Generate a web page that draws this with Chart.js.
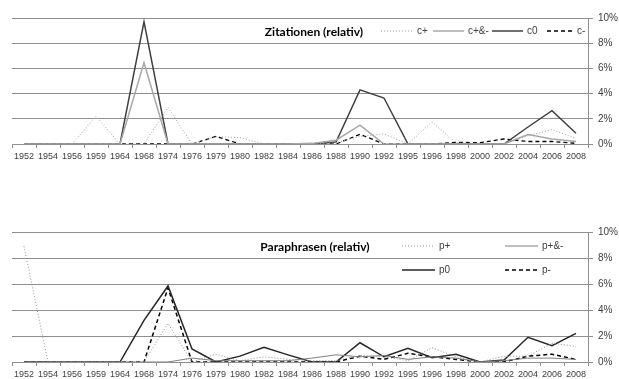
<!DOCTYPE html>
<html>
<head>
<meta charset="utf-8">
<script src="https://cdn.jsdelivr.net/npm/chart.js@4"></script>
<style>
  body { margin: 0; background: #fff; }
  canvas { position: absolute; left: 0; }
  #chartZit { top: 0; }
  #chartPara { top: 190px; }
</style>
</head>
<body>
<canvas id="chartZit" width="619" height="170"></canvas>
<canvas id="chartPara" width="619" height="189"></canvas>
<script>
const years = ['1952', '1954', '1956', '1959', '1964', '1968', '1974', '1976', '1979', '1980', '1982', '1984',
    '1986', '1988', '1990', '1992', '1995', '1996', '1998', '2000', '2002', '2004', '2006', '2008'];
const percentTicks = [0, 2, 4, 6, 8, 10];

// Zitationen, Anteil in %
const cPlus = [0, 0, 0, 2.2, 0, 0, 2.9, 0, 0.6, 0.5, 0, 0, 0, 0.1, 0.6, 0.8, 0, 1.75, 0.1, 0, 0, 0.65, 1.15, 0.45];
const cBoth = [0, 0, 0, 0, 0, 6.45, 0, 0, 0, 0, 0, 0, 0.05, 0.3, 1.5, 0, 0, 0, 0, 0, 0, 0.75, 0.4, 0.2];
const cZero = [0, 0, 0, 0, 0, 9.7, 0, 0, 0, 0, 0, 0, 0, 0.15, 4.3, 3.65, 0, 0, 0, 0, 0, 1.35, 2.65, 0.85];
const cMinus = [0, 0, 0, 0, 0, 0, 0, 0, 0.6, 0, 0, 0, 0, 0, 0.77, 0, 0, 0, 0.13, 0.1, 0.4, 0.2, 0.2, 0.05];

// Paraphrasen, Anteil in %
const pPlus = [8.9, 0, 0, 0, 0, 0, 2.97, 0, 0.6, 0.1, 0.4, 0.2, 0.1, 0.1, 0.5, 0.4, 0.1, 1.1, 0.4, 0, 0.45, 0.45, 1.45, 1.2];
const pBoth = [0, 0, 0, 0, 0, 0, 0, 0.3, 0.1, 0.1, 0.1, 0.1, 0.3, 0.55, 0.4, 0.5, 0.2, 0.4, 0.3, 0, 0.1, 0.3, 0.3, 0.2];
const pZero = [0, 0, 0, 0, 0, 3.2, 5.85, 1.0, 0, 0.45, 1.13, 0.55, 0, 0, 1.48, 0.4, 1.05, 0.33, 0.6, 0, 0.15, 1.9, 1.25, 2.2];
const pMinus = [0, 0, 0, 0, 0, 0, 5.7, 0, 0, 0, 0, 0, 0, 0, 0.45, 0.2, 0.67, 0.4, 0.2, 0, 0, 0.45, 0.6, 0.2];

const gridGray = '#8f8f8f';
const textGray = '#404040';

// title and legend are drawn inside the plot area
const overlayPlugin = {
    id: 'overlay',
    afterDraw(chart, args, opts) {
        const ctx = chart.ctx;
        ctx.save();
        ctx.font = 'bold 12px Lato';
        ctx.fillStyle = '#000';
        ctx.textAlign = 'center';
        ctx.textBaseline = 'middle';
        ctx.fillText(opts.title, opts.titleX, opts.titleY);

        ctx.font = '10px "Liberation Sans"';
        ctx.textAlign = 'left';
        opts.items.forEach((item, i) => {
            const ds = chart.data.datasets[i];
            ctx.strokeStyle = ds.borderColor;
            ctx.lineWidth = ds.borderWidth;
            ctx.setLineDash(ds.borderDash || []);
            ctx.beginPath();
            ctx.moveTo(item.x1, item.y);
            ctx.lineTo(item.x2, item.y);
            ctx.stroke();
            ctx.setLineDash([]);
            ctx.fillStyle = textGray;
            ctx.fillText(ds.label, item.x2 + 4, item.y);
        });
        ctx.restore();
    }
};

function makeOptions(padTop, axisHeight, overlay) {
    return {
        responsive: false,
        animation: false,
        layout: { padding: { top: padTop, left: 12, right: 0, bottom: 0 } },
        plugins: {
            legend: { display: false },
            tooltip: { enabled: false },
            overlay: overlay
        },
        elements: { point: { radius: 0 }, line: { tension: 0 } },
        scales: {
            x: {
                offset: true,
                grid: { offset: true, drawOnChartArea: false, tickLength: 4, color: gridGray },
                border: { color: gridGray },
                ticks: { autoSkip: false, maxRotation: 0, padding: 3, color: textGray,
                    font: { family: 'Liberation Sans', size: 9 } },
                afterFit(scale) { scale.height = axisHeight; }
            },
            y: {
                position: 'right',
                min: 0,
                max: 10,
                afterBuildTicks(scale) { scale.ticks = percentTicks.map(v => ({ value: v })); },
                grid: { color: gridGray, tickLength: 5 },
                border: { color: gridGray },
                ticks: { padding: 5, color: textGray, font: { family: 'Liberation Sans', size: 10 },
                    callback: v => v + '%' },
                afterFit(scale) { scale.width = 31; }
            }
        }
    };
}

new Chart(document.getElementById('chartZit'), {
    type: 'line',
    data: {
        labels: years,
        datasets: [
            { label: 'c+', data: cPlus, borderColor: '#a0a0a0', borderWidth: 1, borderDash: [1, 2] },
            { label: 'c+&-', data: cBoth, borderColor: '#a8a8a8', borderWidth: 1.5 },
            { label: 'c0', data: cZero, borderColor: '#404040', borderWidth: 1.5 },
            { label: 'c-', data: cMinus, borderColor: '#000', borderWidth: 1.3, borderDash: [4, 3] }
        ]
    },
    options: makeOptions(18, 26, {
        title: 'Zitationen (relativ)', titleX: 314, titleY: 32,
        items: [
            { x1: 381, x2: 413, y: 31 },
            { x1: 433, x2: 464, y: 31 },
            { x1: 492, x2: 523, y: 31 },
            { x1: 547, x2: 573, y: 31 }
        ]
    }),
    plugins: [overlayPlugin]
});

new Chart(document.getElementById('chartPara'), {
    type: 'line',
    data: {
        labels: years,
        datasets: [
            { label: 'p+', data: pPlus, borderColor: '#909090', borderWidth: 1, borderDash: [1, 2] },
            { label: 'p+&-', data: pBoth, borderColor: '#7f7f7f', borderWidth: 1 },
            { label: 'p0', data: pZero, borderColor: '#262626', borderWidth: 1.5 },
            { label: 'p-', data: pMinus, borderColor: '#000', borderWidth: 1.5, borderDash: [4, 3] }
        ]
    },
    options: makeOptions(42, 17, {
        title: 'Paraphrasen (relativ)', titleX: 315, titleY: 57,
        items: [
            { x1: 402, x2: 435, y: 56 },
            { x1: 505, x2: 538, y: 56 },
            { x1: 402, x2: 435, y: 80 },
            { x1: 505, x2: 538, y: 80 }
        ]
    }),
    plugins: [overlayPlugin]
});
</script>
</body>
</html>
